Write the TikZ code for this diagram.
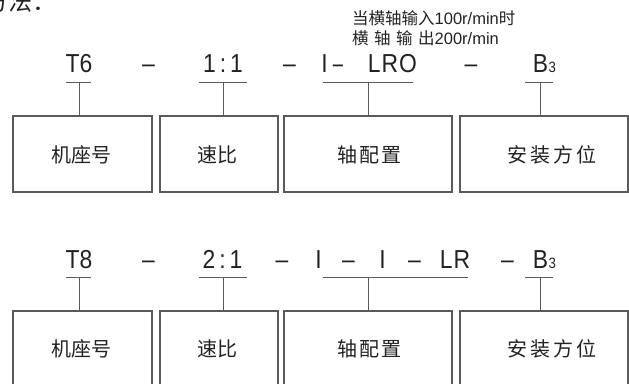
\documentclass[tikz,border=0pt]{standalone}
\usepackage{fontspec}
\setmainfont{Liberation Sans}
\newfontfamily\cjk{Noto Sans CJK SC}
\newfontfamily\codefont[FakeStretch=0.88]{Liberation Sans}
\definecolor{ink}{HTML}{222222}
\definecolor{rule}{HTML}{5A5A5A}
\begin{document}
\begin{tikzpicture}[x=1pt,y=-1pt,
  code/.style={font=\codefont\fontsize{26}{26}\selectfont, anchor=base, inner sep=0pt, text=ink},
  lbl/.style={font=\cjk\fontsize{20}{20}\selectfont, inner sep=0pt, text=ink},
  note/.style={font=\fontsize{16.5}{16.5}\selectfont, anchor=base west, inner sep=0pt, text=ink},
  boxa/.style={draw=rule, line width=1.2pt, minimum width=#1, inner sep=0pt, minimum height=76pt},
  boxb/.style={draw=rule, line width=1.2pt, minimum width=#1, inner sep=0pt, minimum height=90pt},
  ln/.style={draw=rule, line width=0.9pt}]
\useasboundingbox (0,0) rectangle (629,383);
\fill[white] (0,0) rectangle (629,383);

% heading (cut off at left, as in the reference)
\node[font=\cjk\fontsize{24}{24}\selectfont, anchor=base west, inner sep=0pt, text=ink] (head) at (-16,10) {方法：};

% ---------- row 1 ----------
\node[note] (n1) at (352,24) {{\cjk 当横轴输入}100r/min{\cjk 时}};
\node[note] (n2) at (352,44) {{\cjk 横\hspace{5.5pt}轴\hspace{5.5pt}输\hspace{5.5pt}出}200r/min};

\node[code] (a1) at (79,72) {T6};
\node[code] (d1) at (148.5,72) {–};
\node[code] (a2) at (223,72) {1\hspace{4pt}:\hspace{4pt}1};
\node[code] (d2) at (289.5,72) {–};
\node[code] (a3i) at (324.5,72) {I};
\node[code] (a3d) at (338,72) {\scalebox{0.8}[1]{–}};
\node[code] (a3) at (392.5,72) {L\hspace{1pt}R\hspace{1pt}O};
\node[code] (d3) at (471,72) {–};
\node[code] (a4) at (544.5,72) {B\hspace{0.5pt}{\fontsize{15}{15}\selectfont 3}};

\node[boxa=139pt] (b1) at (82.5,154) {};
\node[boxa=118pt] (b2) at (219,154) {};
\node[boxa=168pt] (b3) at (368,154) {};
\node[boxa=168pt] (b4) at (544,154) {};
\node[lbl] (l1) at (81.5,155) {机座号};
\node[lbl] (l2) at (217,155) {速比};
\node[lbl] (l3) at (369.5,155) {轴\hspace{2pt}配\hspace{2pt}置};
\node[lbl] (l4) at (552,155) {安\hspace{3pt}装\hspace{3pt}方\hspace{3pt}位};

\coordinate (u1l) at (66,82);  \coordinate (u1r) at (91,82);  \coordinate (u1m) at (79,82);
\coordinate (u2l) at (199,82); \coordinate (u2r) at (247,82); \coordinate (u2m) at (223,82);
\coordinate (u3l) at (323,82); \coordinate (u3r) at (413,82); \coordinate (u3m) at (368,82);
\coordinate (u4l) at (525,82); \coordinate (u4r) at (553,82); \coordinate (u4m) at (540,82);
\draw[ln] (u1l) -- (u1r) (u1m) -- (u1m |- b1.north);
\draw[ln] (u2l) -- (u2r) (u2m) -- (u2m |- b2.north);
\draw[ln] (u3l) -- (u3r) (u3m) -- (u3m |- b3.north);
\draw[ln] (u4l) -- (u4r) (u4m) -- (u4m |- b4.north);

% ---------- row 2 ----------
\node[code] (c1) at (79,268) {T8};
\node[code] (e1) at (148.5,268) {–};
\node[code] (c2) at (222.5,268) {2\hspace{4pt}:\hspace{4pt}1};
\node[code] (e2) at (282,268) {–};
\node[code] (c3a) at (318.5,268) {I};
\node[code] (e3) at (348.5,268) {–};
\node[code] (c3b) at (382.5,268) {I};
\node[code] (e4) at (414.5,268) {–};
\node[code] (c3c) at (455,268) {L\hspace{1pt}R};
\node[code] (e5) at (507.5,268) {–};
\node[code] (c4) at (544.5,268) {B\hspace{0.5pt}{\fontsize{15}{15}\selectfont 3}};

\node[boxb=139pt] (r1) at (82.5,356) {};
\node[boxb=118pt] (r2) at (219,356) {};
\node[boxb=168pt] (r3) at (368,356) {};
\node[boxb=168pt] (r4) at (544,356) {};
\node[lbl] (m1) at (81.5,349) {机座号};
\node[lbl] (m2) at (217,349) {速比};
\node[lbl] (m3) at (369.5,349) {轴\hspace{2pt}配\hspace{2pt}置};
\node[lbl] (m4) at (552,349) {安\hspace{3pt}装\hspace{3pt}方\hspace{3pt}位};

\coordinate (v1l) at (66,277);  \coordinate (v1r) at (91,277);  \coordinate (v1m) at (79,277);
\coordinate (v2l) at (199,277); \coordinate (v2r) at (247,277); \coordinate (v2m) at (223,277);
\coordinate (v3l) at (323,277); \coordinate (v3r) at (468,277); \coordinate (v3m) at (368,277);
\coordinate (v4l) at (525,277); \coordinate (v4r) at (553,277); \coordinate (v4m) at (540,277);
\draw[ln] (v1l) -- (v1r) (v1m) -- (v1m |- r1.north);
\draw[ln] (v2l) -- (v2r) (v2m) -- (v2m |- r2.north);
\draw[ln] (v3l) -- (v3r) (v3m) -- (v3m |- r3.north);
\draw[ln] (v4l) -- (v4r) (v4m) -- (v4m |- r4.north);
\end{tikzpicture}
\end{document}
